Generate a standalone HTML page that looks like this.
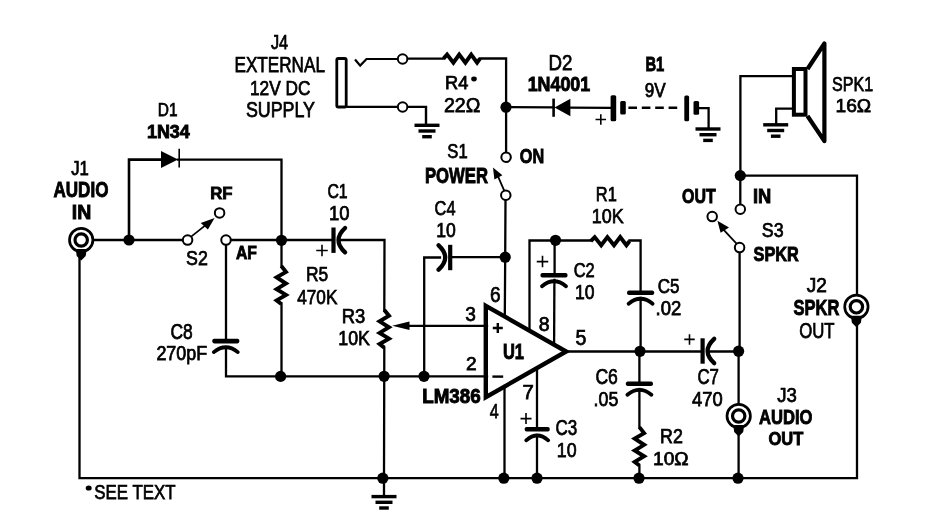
<!DOCTYPE html>
<html><head><meta charset="utf-8"><style>
html,body{margin:0;padding:0;background:#fff;}
svg{display:block;will-change:transform;}
text{font-family:"Liberation Sans",sans-serif;fill:#000;stroke:#000;stroke-width:0.75px;}
text.b{stroke-width:0.9px;}
</style></head><body>
<svg width="925" height="519" viewBox="0 0 925 519">
<rect width="925" height="519" fill="#fff"/>
<g id="shapes">
<polyline points="92,240 183.2,240" fill="none" stroke="#000" stroke-width="2.3" stroke-linejoin="miter" stroke-linecap="square"/>
<polyline points="79.5,258 79.5,478.2 857,478.2 857,316" fill="none" stroke="#000" stroke-width="2.3" stroke-linejoin="miter" stroke-linecap="square"/>
<polyline points="129,240 129,159.6 162,159.6" fill="none" stroke="#000" stroke-width="2.6" stroke-linejoin="miter" stroke-linecap="square"/>
<polyline points="178,159.6 281.5,159.6 281.5,240" fill="none" stroke="#000" stroke-width="2.3" stroke-linejoin="miter" stroke-linecap="square"/>
<path d="M161,151 L178,159.6 L161,168 Z" fill="#000"/>
<line x1="179.2" y1="148.8" x2="179.2" y2="167.6" stroke="#000" stroke-width="1.6" stroke-linecap="butt"/>
<polyline points="230.4,240 333.5,240" fill="none" stroke="#000" stroke-width="2.3" stroke-linejoin="miter" stroke-linecap="square"/>
<polyline points="340,240 384.5,240 384.3,310.5" fill="none" stroke="#000" stroke-width="2.3" stroke-linejoin="miter" stroke-linecap="square"/>
<polyline points="226,244.4 226,341" fill="none" stroke="#000" stroke-width="2.3" stroke-linejoin="miter" stroke-linecap="square"/>
<polyline points="226,348 226,376.3 487,376.3" fill="none" stroke="#000" stroke-width="2.3" stroke-linejoin="miter" stroke-linecap="square"/>
<polyline points="281.5,240 281.5,266.5" fill="none" stroke="#000" stroke-width="2.3" stroke-linejoin="miter" stroke-linecap="square"/>
<polyline points="281.5,303.5 281.5,376.3" fill="none" stroke="#000" stroke-width="2.3" stroke-linejoin="miter" stroke-linecap="square"/>
<polyline points="281.3,266.0 286.0,271.9 276.6,277.4 286.0,283.5 276.6,289.2 286.0,294.9 276.6,300.4 281.3,304.0" fill="none" stroke="#000" stroke-width="3.9" stroke-linejoin="miter" stroke-miterlimit="10"/>
<polyline points="384.3,310.0 389.0,315.8 379.6,321.3 389.0,327.3 379.6,332.9 389.0,338.6 379.6,344.0 384.3,347.6" fill="none" stroke="#000" stroke-width="3.9" stroke-linejoin="miter" stroke-miterlimit="10"/>
<polyline points="384.3,347.6 384,478.2 384,496" fill="none" stroke="#000" stroke-width="2.3" stroke-linejoin="miter" stroke-linecap="square"/>
<line x1="371.5" y1="496.6" x2="396.5" y2="496.6" stroke="#000" stroke-width="3.4" stroke-linecap="butt"/>
<line x1="375.5" y1="502.3" x2="392.5" y2="502.3" stroke="#000" stroke-width="3.4" stroke-linecap="butt"/>
<line x1="379.2" y1="508.0" x2="388.8" y2="508.0" stroke="#000" stroke-width="3.4" stroke-linecap="butt"/>
<polyline points="405,325.8 487,325.8" fill="none" stroke="#000" stroke-width="2.3" stroke-linejoin="miter" stroke-linecap="square"/>
<path d="M392.2,325.8 L409.5,321.6 L409.5,330 Z" fill="#000"/>
<polyline points="424.2,376.3 424.2,257.5 440,257.5" fill="none" stroke="#000" stroke-width="2.3" stroke-linejoin="miter" stroke-linecap="square"/>
<polyline points="450,257.2 505.2,257.2" fill="none" stroke="#000" stroke-width="2.3" stroke-linejoin="miter" stroke-linecap="square"/>
<line x1="450.2" y1="244.8" x2="450.2" y2="270.2" stroke="#000" stroke-width="4.2" stroke-linecap="butt"/>
<path d="M438.59999999999997,245.3 Q451.8,257.5 438.59999999999997,269.7" fill="none" stroke="#000" stroke-width="4.3" stroke-linecap="round"/>
<polyline points="505.5,199.6 505.2,257 504.8,315" fill="none" stroke="#000" stroke-width="2.3" stroke-linejoin="miter" stroke-linecap="square"/>
<polyline points="506.1,152.8 506.1,58.5 480,58.5" fill="none" stroke="#000" stroke-width="2.3" stroke-linejoin="miter" stroke-linecap="square"/>
<polyline points="443.5,58.6 447.1,54.5 453.4,62.7 459.2,54.5 465.4,62.7 471.2,54.5 477.1,62.7 480.0,58.6" fill="none" stroke="#000" stroke-width="3.9" stroke-linejoin="miter" stroke-miterlimit="10"/>
<polyline points="443.5,58.6 407,58.6" fill="none" stroke="#000" stroke-width="2.3" stroke-linejoin="miter" stroke-linecap="square"/>
<polyline points="355.7,60.3 360.2,65.6 366.5,59.0 398.2,59.0" fill="none" stroke="#000" stroke-width="2.2" stroke-linejoin="miter" stroke-linecap="square"/>
<rect x="336.8" y="58.5" width="9.4" height="48.5" rx="1.5" fill="none" stroke="#000" stroke-width="2.8"/>
<polyline points="348,106.9 398.2,106.9" fill="none" stroke="#000" stroke-width="2.4" stroke-linejoin="miter" stroke-linecap="square"/>
<polyline points="407,106.9 426,106.9 426,125.5" fill="none" stroke="#000" stroke-width="2.4" stroke-linejoin="miter" stroke-linecap="square"/>
<line x1="414.5" y1="125.3" x2="439.5" y2="125.3" stroke="#000" stroke-width="3.4" stroke-linecap="butt"/>
<line x1="418.5" y1="131.0" x2="435.5" y2="131.0" stroke="#000" stroke-width="3.4" stroke-linecap="butt"/>
<line x1="422.2" y1="136.7" x2="431.8" y2="136.7" stroke="#000" stroke-width="3.4" stroke-linecap="butt"/>
<circle cx="402.6" cy="59.0" r="4.75" fill="#fff" stroke="#000" stroke-width="2.0"/>
<circle cx="402.6" cy="107.0" r="4.75" fill="#fff" stroke="#000" stroke-width="2.0"/>
<polyline points="506.1,107.2 553.5,107.4" fill="none" stroke="#000" stroke-width="2.3" stroke-linejoin="miter" stroke-linecap="square"/>
<polyline points="568,107.6 610.6,107.8" fill="none" stroke="#000" stroke-width="2.3" stroke-linejoin="miter" stroke-linecap="square"/>
<path d="M554.5,107.4 L570.4,98.7 L570.4,116.3 Z" fill="#000"/>
<line x1="553.6" y1="98.6" x2="553.6" y2="116.8" stroke="#000" stroke-width="2.6" stroke-linecap="butt"/>
<rect x="610.6" y="95.2" width="5.6" height="26" rx="1.5" fill="#000"/>
<rect x="620.2" y="101.1" width="5.6" height="13.5" rx="1.5" fill="#000"/>
<line x1="628.4" y1="107.8" x2="682" y2="107.8" stroke="#000" stroke-width="2.4" stroke-dasharray="8.6,4.8"/>
<rect x="684.3" y="95.5" width="4.8" height="25.8" rx="1.5" fill="#000"/>
<rect x="693.5" y="101" width="5.6" height="13.8" rx="1.5" fill="#000"/>
<polyline points="699,108.1 708.6,108.1 708.6,128" fill="none" stroke="#000" stroke-width="2.3" stroke-linejoin="miter" stroke-linecap="square"/>
<line x1="695.5" y1="129" x2="720.5" y2="129" stroke="#000" stroke-width="3.4" stroke-linecap="butt"/>
<line x1="699.5" y1="134.7" x2="716.5" y2="134.7" stroke="#000" stroke-width="3.4" stroke-linecap="butt"/>
<line x1="703.2" y1="140.4" x2="712.8" y2="140.4" stroke="#000" stroke-width="3.4" stroke-linecap="butt"/>
<polyline points="740.4,175.6 740.4,76.2 792.5,76.2" fill="none" stroke="#000" stroke-width="2.3" stroke-linejoin="miter" stroke-linecap="square"/>
<rect x="793.9" y="69" width="11.6" height="45.7" fill="none" stroke="#000" stroke-width="4"/>
<path d="M807.5,69 L824.4,43.5 L824.4,141.2 L807.5,116" fill="none" stroke="#000" stroke-width="4.2" stroke-linejoin="round"/>
<polyline points="792.5,108.6 776.2,108.6 776.2,124.5" fill="none" stroke="#000" stroke-width="2.3" stroke-linejoin="miter" stroke-linecap="square"/>
<line x1="763.2" y1="124.8" x2="788.2" y2="124.8" stroke="#000" stroke-width="3.4" stroke-linecap="butt"/>
<line x1="767.2" y1="130.5" x2="784.2" y2="130.5" stroke="#000" stroke-width="3.4" stroke-linecap="butt"/>
<line x1="770.9000000000001" y1="136.2" x2="780.5" y2="136.2" stroke="#000" stroke-width="3.4" stroke-linecap="butt"/>
<polyline points="740.3,175.6 857,175.6 857,294" fill="none" stroke="#000" stroke-width="2.3" stroke-linejoin="miter" stroke-linecap="square"/>
<polyline points="740.3,175.6 740.3,204.8" fill="none" stroke="#000" stroke-width="2.3" stroke-linejoin="miter" stroke-linecap="square"/>
<polyline points="739.6,252 739.6,351.2 738.6,351.2 738.6,403" fill="none" stroke="#000" stroke-width="2.3" stroke-linejoin="miter" stroke-linecap="square"/>
<polyline points="738.6,430 738.6,478.2" fill="none" stroke="#000" stroke-width="2.3" stroke-linejoin="miter" stroke-linecap="square"/>
<polyline points="566,351.5 702.6,351.5" fill="none" stroke="#000" stroke-width="2.3" stroke-linejoin="miter" stroke-linecap="square"/>
<polyline points="708,351.5 738.6,351.5" fill="none" stroke="#000" stroke-width="2.3" stroke-linejoin="miter" stroke-linecap="square"/>
<line x1="702.6" y1="338.3" x2="702.6" y2="363.7" stroke="#000" stroke-width="4.2" stroke-linecap="butt"/>
<path d="M714.2,338.8 Q701.0,351 714.2,363.2" fill="none" stroke="#000" stroke-width="4.3" stroke-linecap="round"/>
<line x1="333.5" y1="227.5" x2="333.5" y2="252.89999999999998" stroke="#000" stroke-width="4.2" stroke-linecap="butt"/>
<path d="M345.1,228.0 Q331.9,240.2 345.1,252.39999999999998" fill="none" stroke="#000" stroke-width="4.3" stroke-linecap="round"/>
<polyline points="529.5,329 529.5,240.5 591,240.5" fill="none" stroke="#000" stroke-width="2.3" stroke-linejoin="miter" stroke-linecap="square"/>
<polyline points="590.8,241.2 594.7,237.1 601.2,245.3 607.4,237.1 614.0,245.3 620.2,237.1 626.4,245.3 629.5,241.2" fill="none" stroke="#000" stroke-width="3.9" stroke-linejoin="miter" stroke-miterlimit="10"/>
<polyline points="629.5,240.5 640.6,240.5 640.6,292.7" fill="none" stroke="#000" stroke-width="2.3" stroke-linejoin="miter" stroke-linecap="square"/>
<rect x="627.1" y="290.4" width="27" height="4.6" rx="1.8" fill="#000"/>
<path d="M628.6,303.7 Q640.6,293.90000000000003 652.6,303.7" fill="none" stroke="#000" stroke-width="3.8" stroke-linecap="round"/>
<polyline points="640.6,298 640.6,351.5 639.4,351.5 639.4,383.8" fill="none" stroke="#000" stroke-width="2.3" stroke-linejoin="miter" stroke-linecap="square"/>
<rect x="625.9" y="381.5" width="27" height="4.6" rx="1.8" fill="#000"/>
<path d="M627.4,394.8 Q639.4,385.00000000000006 651.4,394.8" fill="none" stroke="#000" stroke-width="3.8" stroke-linecap="round"/>
<polyline points="639.4,389 639.4,427.5" fill="none" stroke="#000" stroke-width="2.3" stroke-linejoin="miter" stroke-linecap="square"/>
<polyline points="639.4,427.1 644.1,433.1 634.7,438.6 644.1,444.8 634.7,450.5 644.1,456.3 634.7,461.9 639.4,465.5" fill="none" stroke="#000" stroke-width="3.9" stroke-linejoin="miter" stroke-miterlimit="10"/>
<polyline points="639.4,465.5 639.4,478.2" fill="none" stroke="#000" stroke-width="2.3" stroke-linejoin="miter" stroke-linecap="square"/>
<polyline points="554.6,240.5 554.6,275.1" fill="none" stroke="#000" stroke-width="2.3" stroke-linejoin="miter" stroke-linecap="square"/>
<rect x="540.5" y="272.9" width="27" height="4.6" rx="1.8" fill="#000"/>
<path d="M542.0,286.2 Q554,276.40000000000003 566.0,286.2" fill="none" stroke="#000" stroke-width="3.8" stroke-linecap="round"/>
<polyline points="554.4,280 554.1,343.5" fill="none" stroke="#000" stroke-width="2.3" stroke-linejoin="miter" stroke-linecap="square"/>
<rect x="212.3" y="338.8" width="27" height="4.6" rx="1.8" fill="#000"/>
<path d="M213.8,352.1 Q225.8,342.30000000000007 237.8,352.1" fill="none" stroke="#000" stroke-width="3.8" stroke-linecap="round"/>
<polyline points="504.5,386 504.5,478.2" fill="none" stroke="#000" stroke-width="2.3" stroke-linejoin="miter" stroke-linecap="square"/>
<polyline points="537,368.5 537,429.3" fill="none" stroke="#000" stroke-width="2.3" stroke-linejoin="miter" stroke-linecap="square"/>
<rect x="524.7" y="427.0" width="25" height="4.6" rx="1.8" fill="#000"/>
<path d="M526.2,440.3 Q537.2,430.50000000000006 548.2,440.3" fill="none" stroke="#000" stroke-width="3.8" stroke-linecap="round"/>
<polyline points="537,435 537,478.2" fill="none" stroke="#000" stroke-width="2.3" stroke-linejoin="miter" stroke-linecap="square"/>
<path d="M485.8,305.8 L566.2,351.5 L485.8,397.2 Z" fill="none" stroke="#000" stroke-width="4.4" stroke-linejoin="miter"/>
<polyline points="191.2,236.6 210.6,221.2" fill="none" stroke="#000" stroke-width="1.8" stroke-linejoin="miter" stroke-linecap="square"/>
<path d="M214.6,218 L200.7,223.1 L207.9,229.4 Z" fill="#000"/>
<circle cx="187.6" cy="240.1" r="4.75" fill="#fff" stroke="#000" stroke-width="2.0"/>
<circle cx="219.6" cy="212.9" r="4.75" fill="#fff" stroke="#000" stroke-width="2.0"/>
<circle cx="226" cy="240.1" r="4.75" fill="#fff" stroke="#000" stroke-width="2.0"/>
<polyline points="504.2,190.6 497.8,176" fill="none" stroke="#000" stroke-width="1.8" stroke-linejoin="miter" stroke-linecap="square"/>
<path d="M493,167.5 L494.4,179.4 L502.4,175.3 Z" fill="#000"/>
<circle cx="506.1" cy="157.2" r="4.75" fill="#fff" stroke="#000" stroke-width="2.0"/>
<circle cx="505.8" cy="195.2" r="4.75" fill="#fff" stroke="#000" stroke-width="2.0"/>
<polyline points="736.6,243.6 722,228" fill="none" stroke="#000" stroke-width="1.8" stroke-linejoin="miter" stroke-linecap="square"/>
<path d="M717.4,220.8 L720.6,232.8 L729,227.6 Z" fill="#000"/>
<circle cx="740.3" cy="209.3" r="4.75" fill="#fff" stroke="#000" stroke-width="2.0"/>
<circle cx="712.2" cy="216.6" r="4.75" fill="#fff" stroke="#000" stroke-width="2.0"/>
<circle cx="739.6" cy="247.6" r="4.75" fill="#fff" stroke="#000" stroke-width="2.0"/>
<circle cx="81.2" cy="240" r="11.7" fill="#fff" stroke="#000" stroke-width="2.7"/>
<circle cx="81.2" cy="240" r="6.2" fill="none" stroke="#000" stroke-width="3.2"/>
<path d="M75.7,249 L86.7,249 L85.7,256 L81.2,260.5 L76.7,256 Z" fill="#000"/>
<circle cx="856.4" cy="306.8" r="11.7" fill="#fff" stroke="#000" stroke-width="2.7"/>
<circle cx="856.4" cy="306.8" r="6.2" fill="none" stroke="#000" stroke-width="3.2"/>
<path d="M850.9,315.8 L861.9,315.8 L860.9,322.8 L856.4,327.3 L851.9,322.8 Z" fill="#000"/>
<circle cx="738.7" cy="416" r="11.7" fill="#fff" stroke="#000" stroke-width="2.7"/>
<circle cx="738.7" cy="416" r="6.2" fill="none" stroke="#000" stroke-width="3.2"/>
<path d="M733.2,425 L744.2,425 L743.2,432 L738.7,436.5 L734.2,432 Z" fill="#000"/>
<circle cx="129" cy="240" r="5.6" fill="#000"/>
<circle cx="281.5" cy="240.3" r="5.6" fill="#000"/>
<circle cx="384.1" cy="376.3" r="5.6" fill="#000"/>
<circle cx="280.6" cy="376.4" r="5.6" fill="#000"/>
<circle cx="424" cy="376.3" r="5.6" fill="#000"/>
<circle cx="505.2" cy="257.2" r="5.6" fill="#000"/>
<circle cx="506" cy="107.2" r="5.6" fill="#000"/>
<circle cx="555.5" cy="240.3" r="5.6" fill="#000"/>
<circle cx="640" cy="351.3" r="5.6" fill="#000"/>
<circle cx="738.6" cy="351.2" r="5.6" fill="#000"/>
<circle cx="740.3" cy="175.6" r="5.6" fill="#000"/>
<circle cx="382.8" cy="478.2" r="5.6" fill="#000"/>
<circle cx="503.8" cy="478.2" r="5.6" fill="#000"/>
<circle cx="537" cy="478.2" r="5.6" fill="#000"/>
<circle cx="639" cy="478.2" r="5.6" fill="#000"/>
<circle cx="738" cy="478.2" r="5.6" fill="#000"/>
<path d="M316.25,250.5 H327.75 M322,244.75 V256.25" stroke="#000" stroke-width="1.6"/>
<path d="M536.75,261.6 H548.25 M542.5,255.85000000000002 V267.35" stroke="#000" stroke-width="1.6"/>
<path d="M520.5,418.6 H531.5 M526,413.1 V424.1" stroke="#000" stroke-width="1.6"/>
<path d="M684.25,339.4 H694.75 M689.5,334.15 V344.65" stroke="#000" stroke-width="1.6"/>
<path d="M595.55,119.5 H606.05 M600.8,114.25 V124.75" stroke="#000" stroke-width="1.6"/>
<ellipse cx="474" cy="79" rx="2.8" ry="2.4"/>
<ellipse cx="88.7" cy="488" rx="3" ry="2.6"/>
<path d="M492.8,328 H502.8 M497.8,323 V333" stroke="#000" stroke-width="2.4"/>
<path d="M492.4,376.6 H503.2" stroke="#000" stroke-width="2.4"/>
</g>
<g id="texts">
<text x="270.96" y="49.36" font-size="20.56" textLength="17.24" lengthAdjust="spacingAndGlyphs">J4</text>
<text x="234.50" y="72.34" font-size="21.53" textLength="90.44" lengthAdjust="spacingAndGlyphs">EXTERNAL</text>
<text x="250.00" y="94.60" font-size="20.62" textLength="60.47" lengthAdjust="spacingAndGlyphs">12V DC</text>
<text x="245.88" y="116.86" font-size="21.35" textLength="69.16" lengthAdjust="spacingAndGlyphs">SUPPLY</text>
<text x="157.72" y="116.32" font-size="19.06" textLength="19.79" lengthAdjust="spacingAndGlyphs">D1</text>
<text x="146.94" y="138.44" font-size="18.42" font-weight="bold" class="b" textLength="42.90" lengthAdjust="spacingAndGlyphs">1N34</text>
<text x="71.26" y="175.10" font-size="19.84" textLength="17.63" lengthAdjust="spacingAndGlyphs">J1</text>
<text x="53.48" y="196.70" font-size="21.49" font-weight="bold" class="b" textLength="54.94" lengthAdjust="spacingAndGlyphs">AUDIO</text>
<text x="71.72" y="219.10" font-size="20.92" font-weight="bold" class="b" textLength="19.49" lengthAdjust="spacingAndGlyphs">IN</text>
<text x="210.18" y="198.88" font-size="17.19" font-weight="bold" class="b" textLength="22.33" lengthAdjust="spacingAndGlyphs">RF</text>
<text x="186.12" y="265.38" font-size="21.02" textLength="21.81" lengthAdjust="spacingAndGlyphs">S2</text>
<text x="235.98" y="258.88" font-size="18.84" font-weight="bold" class="b" textLength="20.96" lengthAdjust="spacingAndGlyphs">AF</text>
<text x="327.40" y="197.88" font-size="20.96" textLength="20.28" lengthAdjust="spacingAndGlyphs">C1</text>
<text x="329.00" y="219.86" font-size="20.33" textLength="20.52" lengthAdjust="spacingAndGlyphs">10</text>
<text x="306.00" y="281.14" font-size="20.86" textLength="22.25" lengthAdjust="spacingAndGlyphs">R5</text>
<text x="297.26" y="303.64" font-size="19.93" textLength="40.08" lengthAdjust="spacingAndGlyphs">470K</text>
<text x="341.78" y="323.36" font-size="19.30" textLength="23.51" lengthAdjust="spacingAndGlyphs">R3</text>
<text x="338.28" y="345.38" font-size="20.33" textLength="31.57" lengthAdjust="spacingAndGlyphs">10K</text>
<text x="170.40" y="338.88" font-size="21.35" textLength="22.29" lengthAdjust="spacingAndGlyphs">C8</text>
<text x="156.38" y="360.36" font-size="20.26" textLength="50.80" lengthAdjust="spacingAndGlyphs">270pF</text>
<text x="434.62" y="214.62" font-size="20.33" textLength="20.88" lengthAdjust="spacingAndGlyphs">C4</text>
<text x="436.24" y="237.10" font-size="20.26" textLength="19.53" lengthAdjust="spacingAndGlyphs">10</text>
<text x="447.36" y="157.88" font-size="20.33" textLength="20.31" lengthAdjust="spacingAndGlyphs">S1</text>
<text x="424.92" y="182.94" font-size="21.49" font-weight="bold" class="b" textLength="63.13" lengthAdjust="spacingAndGlyphs">POWER</text>
<text x="519.82" y="163.40" font-size="20.73" font-weight="bold" class="b" textLength="24.31" lengthAdjust="spacingAndGlyphs">ON</text>
<text x="445.02" y="89.08" font-size="18.73" textLength="23.27" lengthAdjust="spacingAndGlyphs">R4</text>
<text x="443.90" y="112.30" font-size="20.89" textLength="36.53" lengthAdjust="spacingAndGlyphs">22Ω</text>
<text x="548.58" y="70.34" font-size="21.92" textLength="23.94" lengthAdjust="spacingAndGlyphs">D2</text>
<text x="527.68" y="91.12" font-size="19.96" font-weight="bold" class="b" textLength="62.57" lengthAdjust="spacingAndGlyphs">1N4001</text>
<text x="645.40" y="70.62" font-size="20.26" font-weight="bold" class="b" textLength="18.86" lengthAdjust="spacingAndGlyphs">B1</text>
<text x="644.64" y="96.62" font-size="19.96" textLength="20.94" lengthAdjust="spacingAndGlyphs">9V</text>
<text x="832.10" y="90.64" font-size="19.60" textLength="41.06" lengthAdjust="spacingAndGlyphs">SPK1</text>
<text x="835.52" y="112.38" font-size="18.21" textLength="35.70" lengthAdjust="spacingAndGlyphs">16Ω</text>
<text x="682.08" y="203.36" font-size="20.38" font-weight="bold" class="b" textLength="33.72" lengthAdjust="spacingAndGlyphs">OUT</text>
<text x="752.92" y="202.60" font-size="19.57" font-weight="bold" class="b" textLength="18.28" lengthAdjust="spacingAndGlyphs">IN</text>
<text x="761.86" y="236.88" font-size="20.62" textLength="21.81" lengthAdjust="spacingAndGlyphs">S3</text>
<text x="753.52" y="260.60" font-size="19.31" font-weight="bold" class="b" textLength="45.30" lengthAdjust="spacingAndGlyphs">SPKR</text>
<text x="806.72" y="292.38" font-size="20.62" textLength="20.15" lengthAdjust="spacingAndGlyphs">J2</text>
<text x="793.52" y="314.90" font-size="21.40" font-weight="bold" class="b" textLength="45.80" lengthAdjust="spacingAndGlyphs">SPKR</text>
<text x="799.14" y="337.62" font-size="21.65" textLength="35.37" lengthAdjust="spacingAndGlyphs">OUT</text>
<text x="595.78" y="200.80" font-size="20.83" textLength="21.00" lengthAdjust="spacingAndGlyphs">R1</text>
<text x="591.78" y="223.12" font-size="20.98" textLength="31.82" lengthAdjust="spacingAndGlyphs">10K</text>
<text x="573.64" y="277.14" font-size="20.98" textLength="21.05" lengthAdjust="spacingAndGlyphs">C2</text>
<text x="575.02" y="299.36" font-size="20.26" textLength="19.51" lengthAdjust="spacingAndGlyphs">10</text>
<text x="657.64" y="293.14" font-size="20.30" textLength="21.81" lengthAdjust="spacingAndGlyphs">C5</text>
<text x="655.60" y="315.14" font-size="19.60" textLength="25.69" lengthAdjust="spacingAndGlyphs">.02</text>
<text x="489.92" y="302.36" font-size="22.34" textLength="10.63" lengthAdjust="spacingAndGlyphs">6</text>
<text x="465.32" y="321.36" font-size="20.96" textLength="10.63" lengthAdjust="spacingAndGlyphs">3</text>
<text x="466.12" y="370.30" font-size="19.17" textLength="10.65" lengthAdjust="spacingAndGlyphs">2</text>
<text x="538.64" y="331.14" font-size="20.96" textLength="10.86" lengthAdjust="spacingAndGlyphs">8</text>
<text x="575.60" y="345.12" font-size="21.56" textLength="10.87" lengthAdjust="spacingAndGlyphs">5</text>
<text x="522.44" y="399.08" font-size="20.83" textLength="11.37" lengthAdjust="spacingAndGlyphs">7</text>
<text x="489.76" y="417.84" font-size="20.83" textLength="8.96" lengthAdjust="spacingAndGlyphs">4</text>
<text x="502.94" y="359.20" font-size="21.68" font-weight="bold" class="b" textLength="21.07" lengthAdjust="spacingAndGlyphs">U1</text>
<text x="422.22" y="403.42" font-size="19.45" font-weight="bold" class="b" textLength="58.47" lengthAdjust="spacingAndGlyphs">LM386</text>
<text x="595.40" y="383.60" font-size="21.68" textLength="22.52" lengthAdjust="spacingAndGlyphs">C6</text>
<text x="593.56" y="405.88" font-size="20.62" textLength="24.73" lengthAdjust="spacingAndGlyphs">.05</text>
<text x="697.40" y="383.60" font-size="21.68" textLength="21.54" lengthAdjust="spacingAndGlyphs">C7</text>
<text x="692.04" y="405.88" font-size="20.30" textLength="30.65" lengthAdjust="spacingAndGlyphs">470</text>
<text x="777.24" y="401.64" font-size="20.66" textLength="19.64" lengthAdjust="spacingAndGlyphs">J3</text>
<text x="758.98" y="423.88" font-size="21.04" font-weight="bold" class="b" textLength="53.44" lengthAdjust="spacingAndGlyphs">AUDIO</text>
<text x="768.58" y="444.88" font-size="17.92" font-weight="bold" class="b" textLength="34.72" lengthAdjust="spacingAndGlyphs">OUT</text>
<text x="555.38" y="434.88" font-size="21.65" textLength="21.81" lengthAdjust="spacingAndGlyphs">C3</text>
<text x="556.74" y="457.10" font-size="20.96" textLength="19.81" lengthAdjust="spacingAndGlyphs">10</text>
<text x="660.02" y="443.32" font-size="19.53" textLength="22.77" lengthAdjust="spacingAndGlyphs">R2</text>
<text x="653.04" y="465.36" font-size="19.27" textLength="35.67" lengthAdjust="spacingAndGlyphs">10Ω</text>
<text x="94.36" y="498.86" font-size="20.96" textLength="81.10" lengthAdjust="spacingAndGlyphs">SEE TEXT</text>
</g>
</svg>
</body></html>
